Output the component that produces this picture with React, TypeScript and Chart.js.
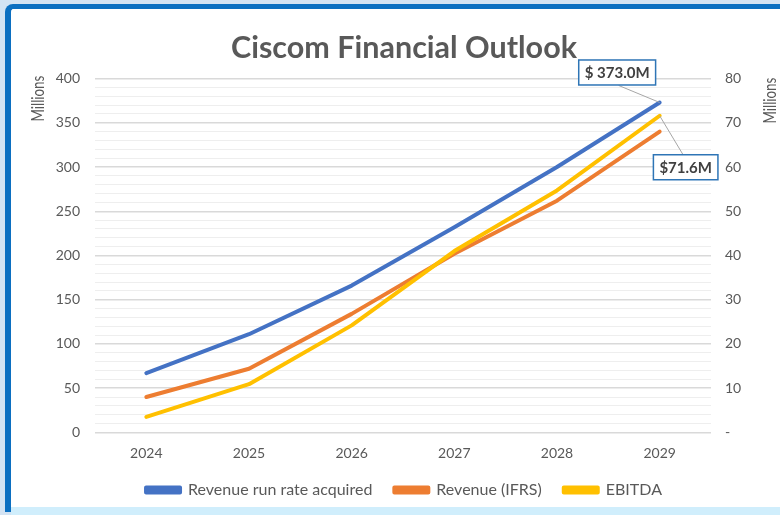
import React, { useEffect, useRef } from "react";
import { Chart, registerables } from "chart.js";

Chart.register(...registerables);

const YEARS = ["2024", "2025", "2026", "2027", "2028", "2029"];
const RUN_RATE = [67, 111, 166, 232, 300, 373];
const REVENUE_IFRS = [40, 72, 134, 202, 262, 340];
const EBITDA = [3.5, 10.9, 24.2, 41, 54.7, 71.6];
const SERIES_NAMES = ["Revenue run rate acquired", "Revenue (IFRS)", "EBITDA"];
const TITLE = "Ciscom Financial Outlook";
const AXIS_TITLE = "Millions";
const LEFT_MAX = 400;
const RIGHT_MAX = 80;

const BLUE = "#4472c4";
const ORANGE = "#ed7d31";
const YELLOW = "#ffc000";
const TEXT = "#595959";
const FONT = "Lato, 'Open Sans', sans-serif";

function drawCallout(ctx: CanvasRenderingContext2D, px: number, py: number, text: string, dx: number, dy: number, ax: number, ay: number) {
  ctx.save();
  ctx.font = `bold 15px ${FONT}`;
  const w = ctx.measureText(text).width + 12;
  const h = 25;
  const cx = px + dx;
  const cy = py + dy;
  ctx.strokeStyle = "#a6a6a6";
  ctx.lineWidth = 1;
  ctx.beginPath();
  ctx.moveTo(cx + ax, cy + ay);
  ctx.lineTo(px, py);
  ctx.stroke();
  ctx.fillStyle = "#ffffff";
  ctx.fillRect(cx - w / 2, cy - h / 2, w, h);
  ctx.strokeStyle = "#2e75b6";
  ctx.lineWidth = 1.5;
  ctx.strokeRect(cx - w / 2, cy - h / 2, w, h);
  ctx.fillStyle = "#404040";
  ctx.textAlign = "center";
  ctx.textBaseline = "middle";
  ctx.fillText(text, cx, cy + 1);
  ctx.restore();
}

function drawAxisTitle(ctx: CanvasRenderingContext2D, x: number, y: number, target: number) {
  ctx.save();
  ctx.font = `18px ${FONT}`;
  const w = ctx.measureText(AXIS_TITLE).width;
  ctx.translate(x, y);
  ctx.rotate(-Math.PI / 2);
  ctx.scale(target / w, 1);
  ctx.fillStyle = TEXT;
  ctx.textAlign = "center";
  ctx.textBaseline = "middle";
  ctx.fillText(AXIS_TITLE, 0, 0);
  ctx.restore();
}

const extrasPlugin = {
  id: "extras",
  afterDraw(chart: any) {
    const ctx = chart.ctx as CanvasRenderingContext2D;
    const area = chart.chartArea;
    drawAxisTitle(ctx, area.left - 57, area.top + 20, 46);
    drawAxisTitle(ctx, area.right + 59, area.top + 22, 46);
    const p0 = chart.getDatasetMeta(0).data[5];
    const p2 = chart.getDatasetMeta(2).data[5];
    drawCallout(ctx, p0.x, p0.y, `$ ${RUN_RATE[5].toFixed(1)}M`, -42.5, -30, 1.5, 13);
    drawCallout(ctx, p2.x, p2.y, `$${EBITDA[5].toFixed(1)}M`, 26, 51.5, -2, -11.5);
  },
};

export default function App() {
  const ref = useRef<HTMLCanvasElement>(null);
  useEffect(() => {
    if (!ref.current) return;
    const chart = new Chart(ref.current, {
      type: "line",
      data: {
        labels: YEARS,
        datasets: [
          { label: SERIES_NAMES[0], data: RUN_RATE, borderColor: BLUE, backgroundColor: BLUE, yAxisID: "y", order: 0 },
          { label: SERIES_NAMES[1], data: REVENUE_IFRS, borderColor: ORANGE, backgroundColor: ORANGE, yAxisID: "y", order: 0 },
          { label: SERIES_NAMES[2], data: EBITDA, borderColor: YELLOW, backgroundColor: YELLOW, yAxisID: "y1", order: -1 },
        ],
      },
      options: {
        responsive: false,
        animation: false,
        devicePixelRatio: 1,
        layout: { padding: { left: 28, right: 0, top: 10, bottom: 7 } },
        elements: {
          line: { borderWidth: 4, tension: 0, borderCapStyle: "round", borderJoinStyle: "round" },
          point: { radius: 0, hoverRadius: 0 },
        },
        plugins: {
          tooltip: { enabled: false },
          title: {
            display: true,
            text: TITLE,
            color: TEXT,
            font: { family: FONT, size: 30.5, weight: "bold" },
            padding: { top: 20, bottom: 12 },
          },
          legend: {
            position: "bottom",
            labels: {
              color: TEXT,
              font: { family: FONT, size: 16 },
              boxWidth: 34,
              boxHeight: 5,
              padding: 22,
              sort: (a: any, b: any) => a.datasetIndex - b.datasetIndex,
            },
          },
        },
        scales: {
          x: {
            offset: true,
            grid: { display: false, drawTicks: false },
            border: { display: false },
            ticks: { color: TEXT, font: { family: FONT, size: 14 }, padding: 12.6 },
            afterFit: (s: any) => { s.height = 27.6; },
          },
          y: {
            position: "left",
            min: 0,
            max: LEFT_MAX,
            border: { display: false },
            grid: {
              drawTicks: false,
              color: (c: any) => (c.tick && c.tick.value % 50 === 0 ? "#d9d9d9" : "#eeeeee"),
              lineWidth: (c: any) => (c.tick && c.tick.value % 50 === 0 ? 1.5 : 1),
            },
            ticks: {
              stepSize: 10,
              autoSkip: false,
              color: TEXT,
              font: { family: FONT, size: 14 },
              padding: 15,
              callback: (v: any) => (Number(v) % 50 === 0 ? String(v) : ""),
            },
            afterFit: (s: any) => { s.width = 67; },
          },
          y1: {
            position: "right",
            min: 0,
            max: RIGHT_MAX,
            border: { display: false },
            grid: { display: false, drawTicks: false },
            ticks: {
              stepSize: 10,
              color: TEXT,
              font: { family: FONT, size: 14 },
              padding: 14,
              callback: (v: any) => (Number(v) === 0 ? "-" : String(v)),
            },
            afterFit: (s: any) => { s.width = 69; },
          },
        },
      },
      plugins: [extrasPlugin],
    } as any);
    return () => chart.destroy();
  }, []);

  return (
    <div style={{ position: "absolute", left: 0, top: 0, width: 780, height: 515, overflow: "hidden", background: "#d3e3f3" }}>
      <div
        style={{
          position: "absolute",
          left: 5,
          top: 4,
          width: 800,
          height: 503,
          background: "#ffffff",
          borderLeft: "6px solid #0b6fc1",
          borderTop: "5px solid #0b6fc1",
          borderTopLeftRadius: 8,
        }}
      />
      <div style={{ position: "absolute", left: 11, top: 507, width: 780, height: 8, background: "#d0eefc" }} />
      <canvas ref={ref} width={780} height={515} style={{ position: "absolute", left: 0, top: 0, width: 780, height: 515 }} />
    </div>
  );
}
